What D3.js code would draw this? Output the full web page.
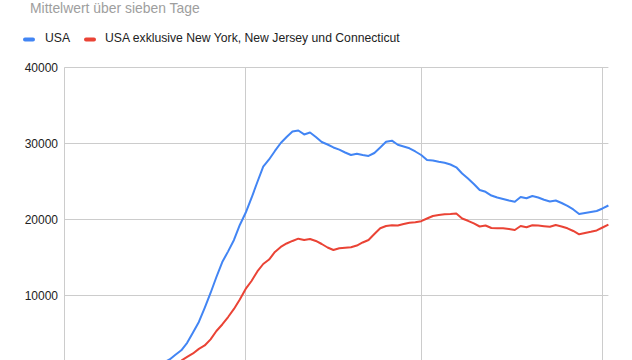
<!DOCTYPE html>
<html>
<head>
<meta charset="utf-8">
<script src="https://cdn.jsdelivr.net/npm/d3@7"></script>
<style>
  html, body { margin: 0; padding: 0; background: #fff; overflow: hidden; }
  svg { display: block; font-family: Arial, "Liberation Sans", sans-serif; }
</style>
</head>
<body>
<svg id="chart"></svg>
<script>
// 7-day averages of daily new cases, one value per day starting 2020-03-01
var firstDay = "2020-03-01";
var seriesNames = ["USA", "USA exklusive New York, New Jersey und Connecticut"];
var seriesColors = ["#4285f4", "#ea4335"];
var yTicks = [10000, 20000, 30000, 40000];

var usa = [
  5, 8, 12, 18, 28, 40, 55, 75, 100, 135, 180, 240, 320, 420, 560, 740, 960, 1230,
  1620, 2230, 2830, 3810, 5180, 6550, 8410, 10360, 12460, 14430, 15830, 17330, 19300,
  20900, 22850, 24950, 26960, 27910, 29030, 30080, 30870, 31590, 31720, 31200, 31460,
  30870, 30210, 29880, 29490, 29200, 28830, 28500, 28670, 28500, 28370, 28760, 29490,
  30250, 30380, 29850, 29620, 29380, 28960,
  28500, 27840, 27780, 27610, 27480, 27250, 26880, 26070, 25410, 24690, 23900, 23660,
  23170, 22910, 22720, 22520, 22360, 22980, 22810, 23110, 22910, 22610, 22390, 22520,
  22190, 21800, 21340, 20740, 20870, 21010, 21140,
  21470, 21860
];

var usaOhneNyNjCt = [
  4, 6, 9, 13, 18, 25, 34, 46, 62, 82, 108, 140, 180, 230, 300, 390, 500, 640,
  810, 1100, 1480, 1950, 2410, 3010, 3460, 4270, 5360, 6220, 7200, 8260, 9500,
  10890, 11940, 13190, 14170, 14760, 15750, 16410, 16870, 17200, 17500, 17330, 17460,
  17200, 16800, 16340, 16010, 16240, 16310, 16370, 16600, 17000, 17330, 18120, 18870,
  19170, 19270, 19220, 19430, 19600, 19670,
  19800, 20150, 20480, 20610, 20700, 20740, 20810, 20150, 19850, 19500, 19100, 19230,
  18900, 18860, 18860, 18770, 18640, 19170, 19010, 19270, 19230, 19140, 19060, 19300,
  19100, 18860, 18510, 18080, 18250, 18400, 18580,
  18970, 19360
];

(function () {
  var width = 632, height = 360;
  var plot = {left: 64.3, right: 608.4, top: 67.5, bottom: 371.8};

  var svg = d3.select("#chart")
      .attr("width", width)
      .attr("height", height);

  var start = d3.timeParse("%Y-%m-%d")(firstDay);
  var day = function (i) { return d3.timeDay.offset(start, i); };
  var series = [usa, usaOhneNyNjCt];

  var x = d3.scaleTime()
      .domain([start, day(usa.length - 1)])
      .range([plot.left, plot.right]);
  var y = d3.scaleLinear()
      .domain([0, 40000])
      .range([plot.bottom, plot.top]);

  var snap = function (v) { return Math.floor(v) + 0.5; };

  // title
  svg.append("text")
    .attr("x", 30)
    .attr("y", 13)
    .style("font-size", "13.9px")
    .attr("fill", "#9e9e9e")
    .text("Mittelwert über sieben Tage");

  // legend
  var swatchX = [23, 84], labelX = [45, 105];
  seriesNames.forEach(function (name, i) {
    svg.append("rect")
      .attr("x", swatchX[i])
      .attr("y", 37.5)
      .attr("width", 12)
      .attr("height", 4)
      .attr("rx", 2)
      .attr("fill", seriesColors[i]);
    svg.append("text")
      .attr("x", labelX[i])
      .attr("y", 42)
      .style("font-size", "12.2px")
      .attr("fill", "#222")
      .text(name);
  });

  var g = svg.append("g");

  // horizontal gridlines
  g.selectAll(".hgrid")
    .data([0].concat(yTicks))
    .enter().append("line")
    .attr("class", "hgrid")
    .attr("x1", plot.left)
    .attr("x2", plot.right)
    .attr("y1", function (d) { return snap(y(d)); })
    .attr("y2", function (d) { return snap(y(d)); })
    .attr("stroke", "#cccccc")
    .attr("stroke-width", 1);

  // vertical gridlines at month starts
  g.selectAll(".vgrid")
    .data(x.ticks(d3.timeMonth.every(1)))
    .enter().append("line")
    .attr("class", "vgrid")
    .attr("x1", function (d) { return snap(x(d)); })
    .attr("x2", function (d) { return snap(x(d)); })
    .attr("y1", plot.top)
    .attr("y2", plot.bottom)
    .attr("stroke", "#cccccc")
    .attr("stroke-width", 1);

  // y tick labels
  g.selectAll(".ylab")
    .data(yTicks)
    .enter().append("text")
    .attr("class", "ylab")
    .attr("x", 58)
    .attr("y", function (d) { return y(d); })
    .attr("dy", "0.36em")
    .style("font-size", "12px")
    .style("text-anchor", "end")
    .attr("fill", "#222")
    .text(function (d) { return d; });

  var line = d3.line()
      .x(function (d, i) { return x(day(i)); })
      .y(function (d) { return y(d); });

  g.selectAll(".series")
    .data(series)
    .enter().append("path")
    .attr("class", "series")
    .attr("d", function (d) { return line(d); })
    .style("fill", "none")
    .style("stroke", function (d, i) { return seriesColors[i]; })
    .style("stroke-width", 2)
    .style("stroke-linejoin", "round");
})();
</script>
</body>
</html>
